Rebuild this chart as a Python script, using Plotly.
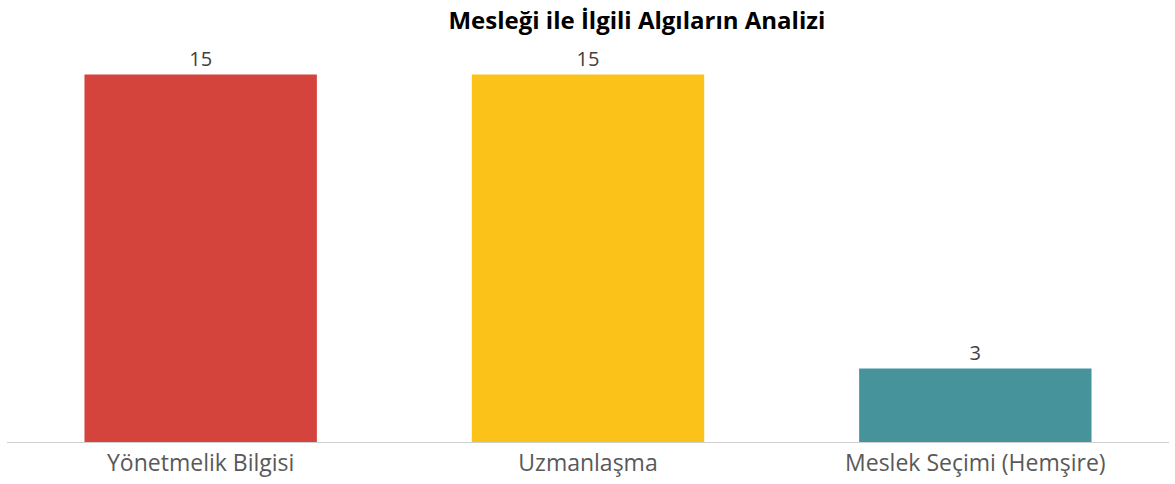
import plotly.graph_objects as go

# Data
categories = ["Yönetmelik Bilgisi", "Uzmanlaşma", "Meslek Seçimi (Hemşire)"]
values = [15, 15, 3]
colors = ["#D5443C", "#FBC31A", "#46939B"]

fig = go.Figure(
    go.Bar(
        x=categories,
        y=values,
        marker=dict(color=colors, line=dict(width=0)),
        text=[str(v) for v in values],
        textposition="outside",
        textfont=dict(family="Open Sans", size=20, color="#404040"),
        cliponaxis=False,
    )
)

fig.update_layout(
    width=1175,
    height=484,
    margin=dict(l=7, r=6, t=50, b=42),
    paper_bgcolor="white",
    plot_bgcolor="white",
    bargap=0.4,
    showlegend=False,
    title=dict(
        text="<b>Mesleği ile İlgili Algıların Analizi</b>",
        x=0.542,
        xanchor="center",
        y=0.958,
        yanchor="middle",
        font=dict(family="Open Sans", size=24, color="#000000"),
    ),
    xaxis=dict(
        showline=True,
        linecolor="#D0D0D0",
        linewidth=1,
        ticks="",
        showgrid=False,
        tickfont=dict(family="Open Sans", size=23, color="#595959"),
    ),
    yaxis=dict(
        range=[0, 16],
        visible=False,
        showgrid=False,
        zeroline=False,
    ),
)

fig.write_html("out.html")
